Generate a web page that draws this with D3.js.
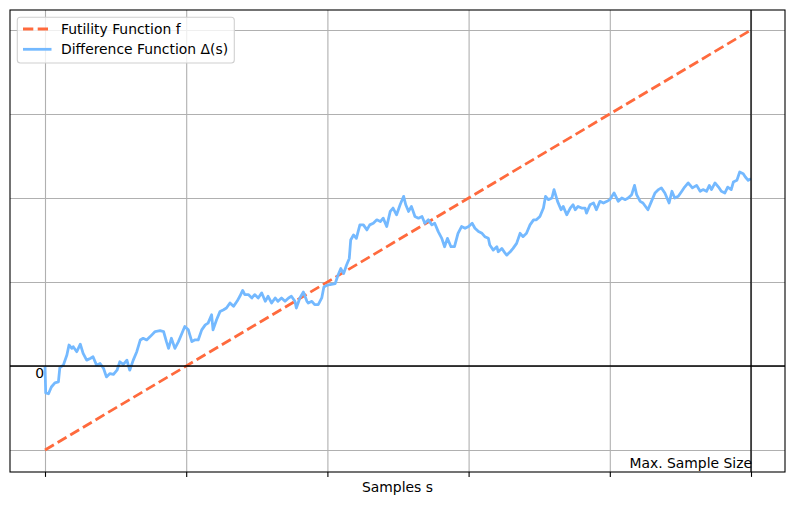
<!DOCTYPE html>
<html><head><meta charset="utf-8">
<script src="https://cdn.jsdelivr.net/npm/d3@7"></script>
<style>body{margin:0;background:#fff}svg{display:block;font-family:"DejaVu Sans",sans-serif}</style>
</head><body><svg id="c" width="794" height="506"></svg>
<script>
// ---- data ----
const xTicks = [0, 200, 400, 600, 800, 1000];
const yGrid = [-1, 0, 1, 2, 3, 4];
const maxSample = 1000;
const futilityS = [0, 1000];
const futilityF = [-1, 4];
const diffS = [0,1,5,9,14,19,21,26,31,34,38,40,45,50,54,59,64,68,73,78,83,87,92,97,102,106,111,116,120,125,130,135,139,144,149,156,163,168,172,175,179,184,189,194,198,203,
208,212,217,222,227,231,236,238,243,248,253,257,262,267,272,276,280,283,288,293,297,302,307,312,316,321,326,330,335,340,345,349,354,356,361,366,371,373,378,382,387,392,395,399,404,
411,415,419,423,427,431,433,437,441,446,451,456,460,465,470,475,479,484,489,493,498,503,508,511,515,519,524,529,534,538,543,548,552,557,562,566,570,575,580,585,590,595,600,605,
609,614,619,623,628,630,635,640,642,647,652,654,659,663,668,673,677,682,687,692,696,701,706,709,713,718,721,726,731,734,739,744,748,751,755,760,765,767,772,777,781,786,791,796,800,
806,812,817,822,826,831,835,838,843,847,854,859,864,869,873,878,884,888,892,897,902,906,911,917,923,928,932,937,941,944,949,954,958,963,967,972,975,980,984,989,992,996,1000];
const diffD = [0,-0.32,-0.33,-0.25,-0.20,-0.19,-0.02,0.01,0.13,0.25,0.21,0.23,0.17,0.26,0.15,0.07,0.09,0.11,0.01,0.03,-0.03,-0.13,-0.09,-0.10,-0.05,0.05,0.02,0.07,-0.05,0.07,0.17,0.31,0.33,0.31,0.35,0.41,0.42,0.41,0.29,0.21,0.33,0.21,0.29,0.39,0.47,0.43,
0.29,0.31,0.31,0.43,0.49,0.51,0.61,0.43,0.55,0.65,0.67,0.69,0.75,0.71,0.77,0.83,0.90,0.85,0.85,0.81,0.85,0.81,0.87,0.77,0.83,0.75,0.81,0.77,0.81,0.77,0.81,0.83,0.77,0.69,0.81,0.88,0.77,0.75,0.77,0.73,0.73,0.81,0.94,0.96,0.97,
0.98,1.08,1.16,1.10,1.20,1.28,1.50,1.56,1.52,1.68,1.68,1.62,1.68,1.70,1.74,1.72,1.76,1.66,1.84,1.88,1.80,1.92,2.02,1.92,1.84,1.90,1.78,1.76,1.78,1.70,1.74,1.68,1.70,1.60,1.52,1.42,1.52,1.42,1.42,1.58,1.66,1.64,1.66,1.70,
1.64,1.60,1.58,1.54,1.52,1.44,1.38,1.42,1.36,1.40,1.34,1.32,1.36,1.40,1.46,1.58,1.54,1.58,1.68,1.74,1.74,1.78,1.88,2.02,1.98,2.00,2.10,1.96,1.86,1.90,1.80,1.88,1.92,1.86,1.90,1.88,1.88,1.82,1.92,1.94,1.86,1.96,1.94,1.96,1.98,
2.06,1.96,2.00,1.98,2.00,2.04,2.15,2.04,1.96,1.94,1.86,1.96,2.06,2.10,2.12,2.06,1.94,2.08,2.00,2.02,2.08,2.13,2.18,2.12,2.15,2.08,2.10,2.08,2.15,2.10,2.18,2.13,2.08,2.06,2.13,2.10,2.19,2.21,2.31,2.29,2.25,2.21,2.23];
const legendLabels = ["Futility Function f", "Difference Function \u0394(s)"];
const colors = {fut: "#ff6a3d", diff: "#74b9ff"};

// ---- chart ----
const svg = d3.select("#c");
const L = 10, R = 785, T = 10, B = 472;
const x = d3.scaleLinear().domain([0, 1000]).range([45, 751]);
const y = d3.scaleLinear().domain([0, 4]).range([366, 30]);

// grid
svg.append("g").attr("transform", `translate(0,${B})`)
  .call(d3.axisBottom(x).tickValues(xTicks).tickSize(-(B - T)).tickFormat(""))
  .call(g => { g.select(".domain").remove(); g.selectAll("line").attr("stroke", "#b0b0b0").attr("stroke-width", 1.1); });
svg.append("g").attr("transform", `translate(${L},0)`)
  .call(d3.axisLeft(y).tickValues(yGrid).tickSize(-(R - L)).tickFormat(""))
  .call(g => { g.select(".domain").remove(); g.selectAll("line").attr("stroke", "#b0b0b0").attr("stroke-width", 1.1); });

const line = d3.line().x(d => x(d[0])).y(d => y(d[1]));
svg.append("path").datum(futilityS.map((s, i) => [s, futilityF[i]]))
  .attr("d", line).attr("fill", "none").attr("stroke", colors.fut)
  .attr("stroke-width", 2.78).attr("stroke-dasharray", "10.3,4.4");
svg.append("path").datum(diffS.map((s, i) => [s, diffD[i]]))
  .attr("d", line).attr("fill", "none").attr("stroke", colors.diff)
  .attr("stroke-width", 2.78).attr("stroke-linejoin", "round");

// reference lines
svg.append("line").attr("x1", L).attr("x2", R).attr("y1", y(0)).attr("y2", y(0)).attr("stroke", "#000").attr("stroke-width", 1.3);
svg.append("line").attr("x1", x(maxSample)).attr("x2", x(maxSample)).attr("y1", T).attr("y2", B).attr("stroke", "#000").attr("stroke-width", 1.3);

// frame + x ticks
svg.append("rect").attr("x", L).attr("y", T).attr("width", R - L).attr("height", B - T)
  .attr("fill", "none").attr("stroke", "#000").attr("stroke-width", 1.1);
svg.append("g").attr("transform", `translate(0,${B})`)
  .call(d3.axisBottom(x).tickValues(xTicks).tickSize(4.9).tickFormat(""))
  .call(g => { g.select(".domain").remove(); g.selectAll("line").attr("stroke", "#000").attr("stroke-width", 1.1); });

// texts
svg.append("text").attr("x", x(0) - 1).attr("y", y(0) + 12).attr("text-anchor", "end")
  .attr("font-size", 13.9).text("0");
svg.append("text").attr("x", x(maxSample) + 1).attr("y", B - 4).attr("text-anchor", "end")
  .attr("font-size", 13.9).text("Max. Sample Size");
svg.append("text").attr("x", (L + R) / 2).attr("y", 492).attr("text-anchor", "middle")
  .attr("font-size", 13.9).text("Samples s");

// legend
const lg = svg.append("g");
lg.append("rect").attr("x", 17.3).attr("y", 17.3).attr("width", 217).attr("height", 45.7).attr("rx", 3)
  .attr("fill", "#fff").attr("fill-opacity", 0.8).attr("stroke", "#d0d0d0").attr("stroke-width", 1.1);
const rows = [{c: colors.fut, dash: "10.3,4.4"}, {c: colors.diff, dash: null}];
rows.forEach((r, i) => {
  const cy = 29 + i * 20.3;
  lg.append("line").attr("x1", 23).attr("x2", 51.5).attr("y1", cy).attr("y2", cy)
    .attr("stroke", r.c).attr("stroke-width", 2.78).attr("stroke-dasharray", r.dash);
  lg.append("text").attr("x", 61).attr("y", cy + 5).attr("font-size", 13.9).text(legendLabels[i]);
});
</script></body></html>
